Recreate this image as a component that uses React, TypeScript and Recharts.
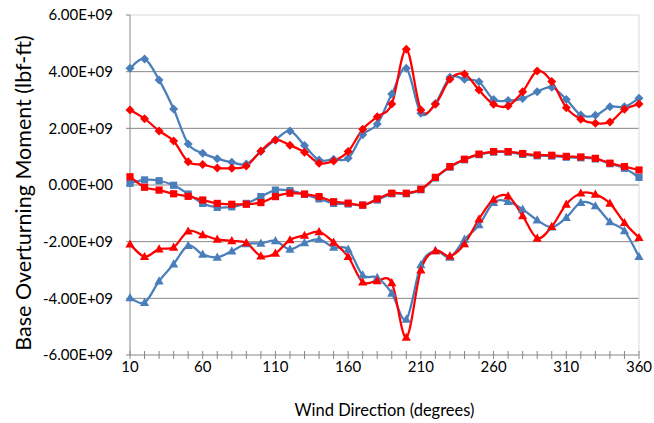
import React from 'react';
import { LineChart, Line, XAxis, YAxis, CartesianGrid, ReferenceLine } from 'recharts';

const directions = [10, 20, 30, 40, 50, 60, 70, 80, 90, 100, 110, 120, 130, 140, 150, 160, 170, 180, 190, 200, 210, 220, 230, 240, 250, 260, 270, 280, 290, 300, 310, 320, 330, 340, 350, 360];
const majorTicks = [10, 60, 110, 160, 210, 260, 310, 360];
const yTicks = [-6e9, -4e9, -2e9, 0, 2e9, 4e9, 6e9];

// values in units of 1E+09 lbf-ft
const maxBlue = [4.12, 4.45, 3.71, 2.68, 1.45, 1.12, 0.93, 0.80, 0.74, 1.18, 1.59, 1.91, 1.39, 0.88, 0.91, 0.94, 1.77, 2.15, 3.21, 4.12, 2.53, 2.88, 3.80, 3.73, 3.64, 3.02, 2.98, 3.05, 3.29, 3.45, 3.02, 2.47, 2.46, 2.76, 2.76, 3.06];
const maxRed = [2.65, 2.34, 1.91, 1.55, 0.82, 0.72, 0.60, 0.59, 0.67, 1.20, 1.59, 1.40, 1.16, 0.77, 0.85, 1.18, 1.97, 2.41, 2.86, 4.79, 2.65, 2.85, 3.73, 3.92, 3.35, 2.85, 2.79, 3.29, 4.02, 3.65, 2.73, 2.32, 2.18, 2.22, 2.67, 2.86];
const meanBlue = [0.06, 0.18, 0.15, -0.01, -0.32, -0.65, -0.79, -0.77, -0.65, -0.41, -0.18, -0.20, -0.33, -0.49, -0.65, -0.67, -0.71, -0.53, -0.31, -0.31, -0.17, 0.25, 0.63, 0.89, 1.07, 1.16, 1.16, 1.08, 1.03, 1.02, 0.98, 0.96, 0.92, 0.75, 0.59, 0.27];
const meanRed = [0.29, -0.08, -0.18, -0.31, -0.40, -0.53, -0.65, -0.68, -0.68, -0.62, -0.41, -0.29, -0.32, -0.41, -0.59, -0.64, -0.71, -0.49, -0.29, -0.29, -0.15, 0.27, 0.65, 0.91, 1.09, 1.18, 1.18, 1.11, 1.06, 1.05, 1.01, 0.99, 0.94, 0.77, 0.65, 0.53];
const minBlue = [-3.98, -4.15, -3.39, -2.79, -2.14, -2.45, -2.55, -2.33, -2.08, -2.06, -1.97, -2.27, -2.04, -1.92, -2.20, -2.27, -3.18, -3.27, -3.82, -4.74, -2.82, -2.32, -2.55, -1.92, -1.41, -0.62, -0.59, -0.86, -1.24, -1.49, -1.15, -0.62, -0.74, -1.30, -1.62, -2.53];
const minRed = [-2.09, -2.53, -2.26, -2.20, -1.63, -1.76, -1.92, -1.97, -2.04, -2.51, -2.41, -1.94, -1.78, -1.65, -2.02, -2.53, -3.43, -3.38, -3.45, -5.38, -3.00, -2.32, -2.51, -2.08, -1.20, -0.51, -0.39, -1.09, -1.88, -1.47, -0.68, -0.29, -0.33, -0.65, -1.33, -1.86];

const SCALE = 1e9;
const rows = directions.map((d, i) => ({
  dir: d,
  maxBlue: maxBlue[i] * SCALE,
  maxRed: maxRed[i] * SCALE,
  meanBlue: meanBlue[i] * SCALE,
  meanRed: meanRed[i] * SCALE,
  minBlue: minBlue[i] * SCALE,
  minRed: minRed[i] * SCALE,
}));

const BLUE = '#4A7EBB';
const RED = '#FF0000';
const AXIS = '#868686';
const FONT = 'Lato, "Liberation Sans", sans-serif';

// Excel-like smoothed line (Catmull-Rom as cubic Bezier)
function smoothCurve(context: any) {
  let pts: number[][] = [];
  return {
    areaStart() {},
    areaEnd() {},
    lineStart() { pts = []; },
    point(x: number, y: number) { pts.push([+x, +y]); },
    lineEnd() {
      if (!pts.length) return;
      context.moveTo(pts[0][0], pts[0][1]);
      for (let i = 0; i < pts.length - 1; i++) {
        const p0 = pts[i - 1] || pts[i];
        const p1 = pts[i];
        const p2 = pts[i + 1];
        const p3 = pts[i + 2] || p2;
        context.bezierCurveTo(
          p1[0] + (p2[0] - p0[0]) / 6, p1[1] + (p2[1] - p0[1]) / 6,
          p2[0] - (p3[0] - p1[0]) / 6, p2[1] - (p3[1] - p1[1]) / 6,
          p2[0], p2[1]
        );
      }
    },
  };
}

const diamondDot = (color: string) => (props: any) => {
  const { cx, cy, index } = props;
  if (cx == null || cy == null) return <g key={`dd${index}`} />;
  const r = 4.5;
  return <path key={`dd${index}`} d={`M${cx},${cy - r}L${cx + r},${cy}L${cx},${cy + r}L${cx - r},${cy}Z`} fill={color} />;
};
const squareDot = (color: string) => (props: any) => {
  const { cx, cy, index } = props;
  if (cx == null || cy == null) return <g key={`sd${index}`} />;
  const r = 3.6;
  return <rect key={`sd${index}`} x={cx - r} y={cy - r} width={2 * r} height={2 * r} fill={color} />;
};
const triangleDot = (color: string) => (props: any) => {
  const { cx, cy, index } = props;
  if (cx == null || cy == null) return <g key={`td${index}`} />;
  return <path key={`td${index}`} d={`M${cx},${cy - 4.8}L${cx + 4.6},${cy + 3.4}L${cx - 4.6},${cy + 3.4}Z`} fill={color} />;
};

const sci = (v: number) => {
  if (v === 0) return '0.00E+00';
  const e = Math.floor(Math.log10(Math.abs(v)) + 1e-9);
  const m = v / Math.pow(10, e);
  return `${m.toFixed(2)}E${e >= 0 ? '+' : '-'}${String(Math.abs(e)).padStart(2, '0')}`;
};

const XTick = (props: any) => {
  const { x, y, payload } = props;
  const v = payload.value;
  const major = majorTicks.includes(v);
  return (
    <g>
      <line x1={x} x2={x} y1={y - 4} y2={y + 4} stroke={AXIS} strokeWidth={1} />
      {major && (
        <text x={x} y={y + 17} textAnchor="middle" fill="#000" fontSize={15} fontFamily={FONT}>{v}</text>
      )}
    </g>
  );
};

const YTitle = (props: any) => {
  const vb = props.viewBox || { x: 0, y: 15, width: 130, height: 340 };
  const cx = 23;
  const cy = vb.y + vb.height / 2 + 8;
  return (
    <text x={cx} y={cy} transform={`rotate(-90, ${cx}, ${cy})`} textAnchor="middle" dominantBaseline="central" fill="#000" fontSize={21.5} fontFamily={FONT}>
      Base Overturning Moment (lbf-ft)
    </text>
  );
};

export default function App() {
  return (
    <div style={{ position: 'absolute', left: 0, top: 0, background: '#fff' }}>
      <LineChart width={654} height={423} data={rows} margin={{ top: 15, right: 15, left: 0, bottom: 0 }} style={{ fontFamily: FONT }}>
        <CartesianGrid vertical={false} stroke={AXIS} horizontalValues={[-4e9, -2e9, 0, 2e9, 4e9]} />
        <ReferenceLine y={6e9} stroke="#D9D9D9" strokeWidth={1} ifOverflow="extendDomain" />
        <ReferenceLine x={360} stroke="#D9D9D9" strokeWidth={1} />
        <XAxis
          dataKey="dir"
          type="number"
          domain={[10, 360]}
          ticks={directions}
          interval={0}
          tick={<XTick />}
          tickLine={false}
          tickSize={0}
          tickMargin={0}
          axisLine={{ stroke: AXIS, strokeWidth: 1 }}
          height={68}
          label={{ value: 'Wind Direction (degrees)', position: 'insideBottom', offset: 7, fill: '#000', fontSize: 16.5, fontFamily: FONT }}
        />
        <YAxis
          type="number"
          domain={[-6e9, 6e9]}
          ticks={yTicks}
          interval={0}
          tickFormatter={sci}
          width={130}
          tickSize={4}
          tickMargin={13}
          axisLine={{ stroke: AXIS, strokeWidth: 1 }}
          tickLine={{ stroke: AXIS }}
          tick={{ fill: '#000', fontSize: 15, fontFamily: FONT }}
          label={{ content: YTitle }}
        />
        <Line dataKey="maxBlue" stroke={BLUE} strokeWidth={2.25} type={smoothCurve as any} dot={diamondDot(BLUE)} activeDot={false} isAnimationActive={false} />
        <Line dataKey="meanBlue" stroke={BLUE} strokeWidth={2.25} type={smoothCurve as any} dot={squareDot(BLUE)} activeDot={false} isAnimationActive={false} />
        <Line dataKey="minBlue" stroke={BLUE} strokeWidth={2.25} type={smoothCurve as any} dot={triangleDot(BLUE)} activeDot={false} isAnimationActive={false} />
        <Line dataKey="maxRed" stroke={RED} strokeWidth={2.25} type={smoothCurve as any} dot={diamondDot(RED)} activeDot={false} isAnimationActive={false} />
        <Line dataKey="meanRed" stroke={RED} strokeWidth={2.25} type={smoothCurve as any} dot={squareDot(RED)} activeDot={false} isAnimationActive={false} />
        <Line dataKey="minRed" stroke={RED} strokeWidth={2.25} type={smoothCurve as any} dot={triangleDot(RED)} activeDot={false} isAnimationActive={false} />
      </LineChart>
    </div>
  );
}
